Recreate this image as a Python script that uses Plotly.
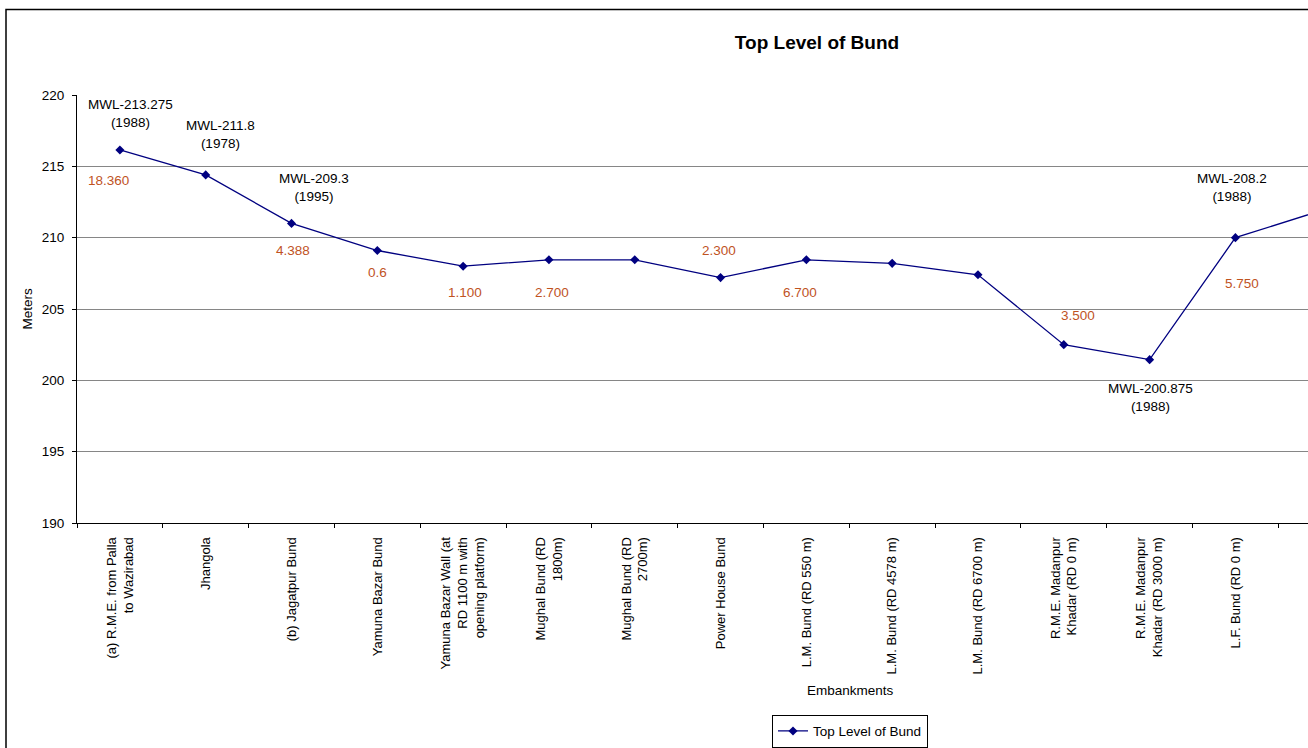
import plotly.graph_objects as go

categories = [
    "(a) R.M.E. from Palla<br>to Wazirabad",
    "Jhangola",
    "(b) Jagatpur Bund",
    "Yamuna Bazar Bund",
    "Yamuna Bazar Wall (at<br>RD 1100 m with<br>opening platform)",
    "Mughal Bund (RD<br>1800m)",
    "Mughal Bund (RD<br>2700m)",
    "Power House Bund",
    "L.M. Bund (RD 550 m)",
    "L.M. Bund (RD 4578 m)",
    "L.M. Bund (RD 6700 m)",
    "R.M.E. Madanpur<br>Khadar (RD 0 m)",
    "R.M.E. Madanpur<br>Khadar (RD 3000 m)",
    "L.F. Bund (RD 0 m)",
    " ",
]
top_level = [216.15, 214.4, 211.0, 209.1, 208.0, 208.45, 208.45, 207.2,
             208.45, 208.2, 207.4, 202.5, 201.45, 210.0, 211.9]

# MWL notes (text, category index, level position)
mwl_text = ["MWL-213.275<br>(1988)", "MWL-211.8<br>(1978)", "MWL-209.3<br>(1995)",
            "MWL-200.875<br>(1988)", "MWL-208.2<br>(1988)"]
mwl_x = [0.12, 1.17, 2.26, 12.01, 12.96]
mwl_y = [218.71, 217.25, 213.50, 198.80, 213.49]

# orange length notes
len_text = ["18.360", "4.388", "0.6", "1.100", "2.700", "2.300", "6.700", "3.500", "5.750"]
len_x = [-0.13, 2.02, 3.0, 4.02, 5.04, 6.98, 7.93, 11.16, 13.08]
len_y = [214.03, 209.09, 207.53, 206.19, 206.19, 209.09, 206.19, 204.52, 206.77]

FONT = "Liberation Sans, Arial, sans-serif"
FS = 13.5
W, H = 1308, 748
ML, MT, MB, MR = 77, 95, 222, 0
PW = W - ML - MR
PH = H - MT - MB

fig = go.Figure()
fig.add_trace(go.Scatter(
    x=categories, y=top_level, mode="lines+markers", name="Top Level of Bund",
    line=dict(color="#000080", width=1.3),
    marker=dict(symbol="diamond", size=7, color="#000080"),
))

ann = []
for t, x, y in zip(mwl_text, mwl_x, mwl_y):
    ann.append(dict(x=x, y=y, xref="x", yref="y", text=t, showarrow=False,
                    xanchor="center", yanchor="middle",
                    font=dict(family=FONT, size=FS, color="black"), align="center"))
for t, x, y in zip(len_text, len_x, len_y):
    ann.append(dict(x=x, y=y, xref="x", yref="y", text=t, showarrow=False,
                    xanchor="center", yanchor="middle",
                    font=dict(family=FONT, size=FS, color="#C0531F")))

def px_to_paper_x(px):
    return (px - ML) / PW

def py_to_paper_y(py):
    return (H - MB - py) / PH

ann.append(dict(x=px_to_paper_x(850), y=py_to_paper_y(695), xref="paper", yref="paper",
                text="Embankments", showarrow=False, xanchor="center", yanchor="middle",
                font=dict(family=FONT, size=FS, color="black")))
ann.append(dict(x=px_to_paper_x(28), y=py_to_paper_y(310), xref="paper", yref="paper",
                text="Meters", showarrow=False, textangle=-90,
                xanchor="center", yanchor="middle",
                font=dict(family=FONT, size=FS, color="black")))

fig.update_layout(
    width=W, height=H,
    margin=dict(l=ML, r=MR, t=MT, b=MB, pad=0),
    paper_bgcolor="white", plot_bgcolor="white",
    font=dict(family=FONT, size=FS, color="black"),
    title=dict(text="<b>Top Level of Bund</b>", x=817 / W, xref="container", xanchor="center",
               y=1 - 42 / H, yref="container", yanchor="middle",
               font=dict(family=FONT, size=19, color="black")),
    annotations=ann,
    showlegend=True,
    legend=dict(x=px_to_paper_x(772), y=py_to_paper_y(719), xanchor="left", yanchor="top",
                bordercolor="black", borderwidth=1, bgcolor="white",
                font=dict(family=FONT, size=FS, color="black"),
                itemwidth=30, tracegroupgap=0),
    shapes=[dict(type="rect", xref="paper", yref="paper",
                 x0=px_to_paper_x(6), x1=1.3, y0=-1.0, y1=py_to_paper_y(9),
                 line=dict(color="black", width=1.5), fillcolor="rgba(0,0,0,0)",
                 layer="below")],
)
fig.update_xaxes(
    type="category", range=[-0.5, 13.846], tickson="boundaries",
    ticks="outside", ticklen=4, tickcolor="black", tickangle=-90,
    ticklabelstandoff=8,
    showline=True, linecolor="black", linewidth=1, showgrid=False,
    tickfont=dict(family=FONT, size=13, color="black"),
)
fig.update_yaxes(
    range=[190, 220], dtick=5, tick0=190,
    ticks="outside", ticklen=4, tickcolor="black",
    ticklabelstandoff=5,
    showline=True, linecolor="black", linewidth=1,
    showgrid=True, gridcolor="#868686", gridwidth=1,
    tickfont=dict(family=FONT, size=FS, color="black"), zeroline=False,
)

fig.write_html("out.html")
